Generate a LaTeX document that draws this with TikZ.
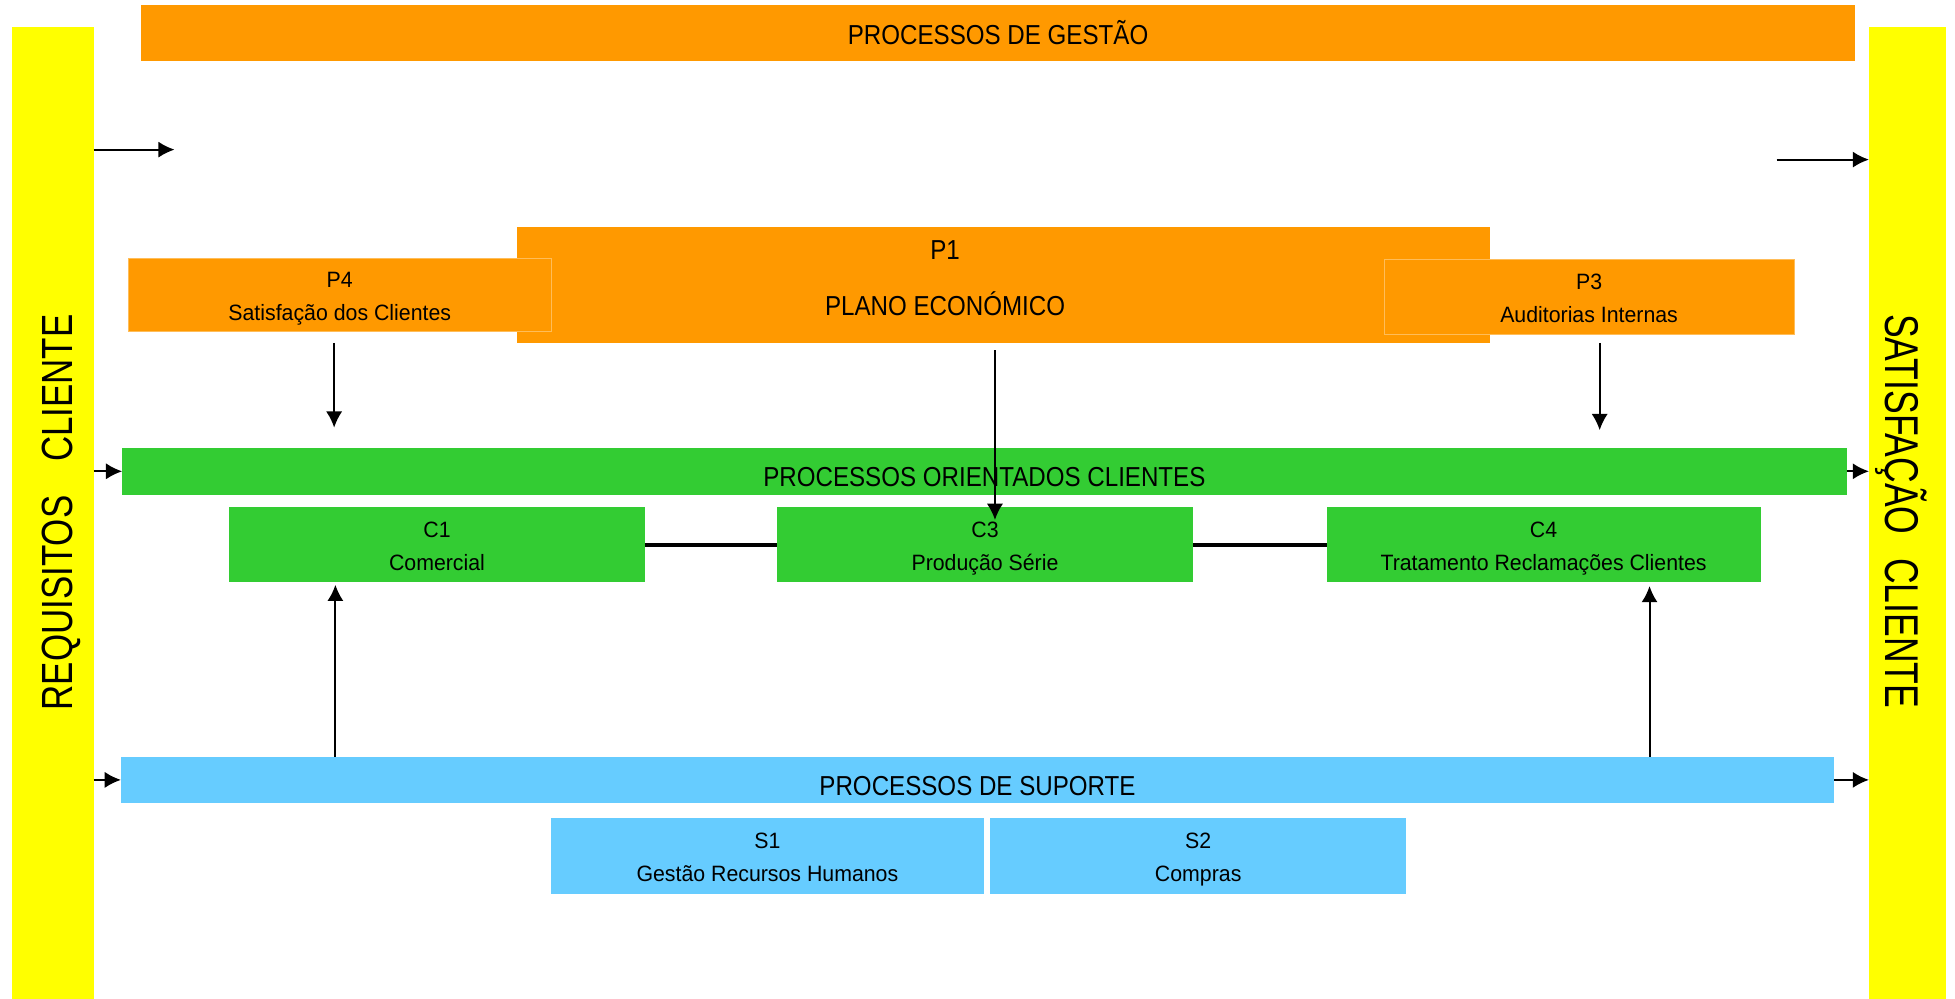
\documentclass[tikz,border=0pt]{standalone}
\usepackage{fontspec}
\setmainfont{Liberation Sans}
\newfontfamily\titlefont[FakeStretch=0.88]{Liberation Sans}
\newfontfamily\itemfont[FakeStretch=0.96]{Liberation Sans}
\newfontfamily\leftsidefont[FakeStretch=0.80]{Liberation Sans}
\newfontfamily\rightsidefont[FakeStretch=0.75]{Liberation Sans}
\usetikzlibrary{arrows.meta}
\definecolor{gestao}{HTML}{FF9900}
\definecolor{cliente}{HTML}{FFFF00}
\definecolor{orientado}{HTML}{33CC33}
\definecolor{suporte}{HTML}{66CCFF}
% two centred lines: code on top, name below, with fixed vertical extent
\newcommand{\twolines}[2]{\rule{0pt}{18.7pt}#1\\\rule[-4pt]{0pt}{4pt}#2}

\begin{document}
\begin{tikzpicture}[x=1pt,y=-1pt,
  area/.style={rectangle,inner sep=0pt,outer sep=0pt,text=black},
  band/.style={area,font=\titlefont\fontsize{22}{26}\selectfont,text height=24.8pt,text depth=0pt},
  proc/.style={area,align=center,font=\itemfont\fontsize{17.8}{26}\selectfont},
  arr/.style={-{Latex[length=13pt,width=13pt]},line width=1.6pt},
  link/.style={line width=2.8pt},
]
\useasboundingbox (0,0) rectangle (1568,801);

% customer columns
\node[area,fill=cliente,minimum width=65pt,minimum height=779pt] (req) at (42.5,411.5) {};
\node[area,fill=cliente,minimum width=62pt,minimum height=779pt] (sat) at (1530,411.5) {};
\node[area,rotate=90,font=\leftsidefont\fontsize{35}{40}\selectfont,text height=25pt,text depth=0pt]
  (reqtxt) at (45.5,411) {REQUISITOS\hspace{27pt}CLIENTE};
\node[area,rotate=-90,font=\rightsidefont\fontsize{38}{44}\selectfont,text height=27.2pt,text depth=0pt]
  (sattxt) at (1526,410) {SATISFAÇÃO\hspace{19pt}CLIENTE};

% management processes
\node[band,fill=gestao,minimum width=1375pt,minimum height=45pt,text height=18.4pt]
  (gestao) at (800.5,26.5) {PROCESSOS DE GESTÃO};
\node[area,fill=gestao,minimum width=780pt,minimum height=93pt] (p1) at (805,228.5) {};
\node[area,align=center,font=\titlefont\fontsize{22}{45}\selectfont]
  (p1txt) at (758,222.5) {\rule{0pt}{15.8pt}P1\\PLANO ECONÓMICO};
\node[proc,fill=gestao,draw=gestao!65!white,line width=0.5pt,minimum width=339pt,minimum height=59pt]
  (p4) at (272.5,236.5) {\twolines{P4}{Satisfação dos Clientes}};
\node[proc,fill=gestao,draw=gestao!65!white,line width=0.5pt,minimum width=329pt,minimum height=60pt]
  (p3) at (1274.5,238) {\twolines{P3}{Auditorias Internas}};

% customer-oriented processes
\node[band,fill=orientado,minimum width=1383pt,minimum height=38pt] (oc) at (789.5,378) {PROCESSOS ORIENTADOS CLIENTES};
\node[proc,fill=orientado,minimum width=333pt,minimum height=60pt] (c1) at (350.5,437) {\twolines{C1}{Comercial}};
\node[proc,fill=orientado,minimum width=334pt,minimum height=60pt] (c3) at (790,437) {\twolines{C3}{Produção Série}};
\node[proc,fill=orientado,minimum width=348pt,minimum height=60pt] (c4) at (1238,437) {\twolines{C4}{Tratamento Reclamações Clientes}};
\draw[link] (c1.east) -- (c3.west);
\draw[link] (c3.east) -- (c4.west);

% support processes
\node[band,fill=suporte,minimum width=1374pt,minimum height=37pt] (sp) at (784,625.5) {PROCESSOS DE SUPORTE};
\node[proc,fill=suporte,minimum width=347pt,minimum height=61pt] (s1) at (615.5,686.5) {\twolines{S1}{Gestão Recursos Humanos}};
\node[proc,fill=suporte,minimum width=334pt,minimum height=61pt] (s2) at (961,686.5) {\twolines{S2}{Compras}};

% flows
\coordinate (inL) at (140,120);
\coordinate (outR) at (1425,128);
\draw[arr] (req.east |- inL) -- (inL);
\draw[arr] (outR) -- (sat.west |- outR);

\coordinate (p4down) at ([xshift=-4.5pt]p4.south);
\coordinate (p3down) at ([xshift=8.5pt]p3.south);
\coordinate (p1down) at ([xshift=-7pt]p1.south);
\draw[arr,shorten <=9pt,shorten >=16pt] (p4down) -- (p4down |- oc.north);
\draw[arr,shorten <=7pt,shorten >=14pt] (p3down) -- (p3down |- oc.north);
\draw[arr,shorten <=6pt,shorten >=-10pt] (p1down) -- (p1down |- c3.north);

\draw[arr] (req.east |- oc.west) -- (oc.west);
\draw[arr] (oc.east) -- (sat.west |- oc.east);
\draw[arr] (req.east |- sp.west) -- (sp.west);
\draw[arr] (sp.east) -- (sat.west |- sp.east);

\coordinate (c1up) at ([xshift=-81.5pt]c1.south);
\coordinate (c4up) at ([xshift=85pt]c4.south);
\draw[arr,shorten >=2pt] (c1up |- sp.north) -- (c1up);
\draw[arr,shorten >=3pt] (c4up |- sp.north) -- (c4up);
\end{tikzpicture}
\end{document}
